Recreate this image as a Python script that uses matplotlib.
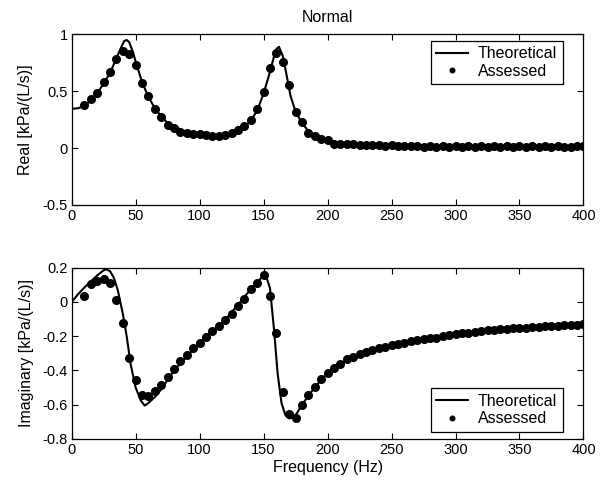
import matplotlib.pyplot as plt
from matplotlib.ticker import FuncFormatter

plt.rcParams['font.family'] = ['Liberation Sans', 'DejaVu Sans']

# assessed points, every 5 Hz from 10 to 400
freq = list(range(10, 405, 5))

real_pts = [0.38, 0.43, 0.48, 0.58, 0.67, 0.78, 0.85, 0.83, 0.73, 0.575,
            0.46, 0.34, 0.27, 0.205, 0.18, 0.145, 0.13, 0.12, 0.12, 0.115,
            0.11, 0.11, 0.115, 0.13, 0.16, 0.19, 0.245, 0.34, 0.49, 0.70,
            0.84, 0.755, 0.555, 0.32, 0.225, 0.13, 0.108, 0.08, 0.073, 0.04,
            0.04, 0.035, 0.035, 0.03, 0.03, 0.025, 0.025, 0.02, 0.025, 0.015,
            0.02, 0.015, 0.02, 0.01, 0.02, 0.01, 0.015, 0.01, 0.015, 0.01,
            0.015, 0.01, 0.015, 0.01, 0.015, 0.01, 0.015, 0.01, 0.015, 0.01,
            0.015, 0.01, 0.015, 0.01, 0.015, 0.01, 0.01, 0.015, 0.015]

imag_pts = [0.033, 0.103, 0.123, 0.132, 0.109, 0.012, -0.124, -0.325, -0.455, -0.543,
            -0.549, -0.52, -0.485, -0.436, -0.393, -0.344, -0.31, -0.27, -0.237, -0.204,
            -0.169, -0.14, -0.107, -0.068, -0.023, 0.019, 0.074, 0.109, 0.156, 0.035,
            -0.179, -0.525, -0.656, -0.679, -0.60, -0.546, -0.496, -0.448, -0.415, -0.383,
            -0.36, -0.335, -0.321, -0.305, -0.29, -0.282, -0.27, -0.263, -0.253, -0.243,
            -0.237, -0.228, -0.22, -0.218, -0.212, -0.208, -0.2, -0.195, -0.189, -0.183,
            -0.179, -0.175, -0.169, -0.165, -0.162, -0.158, -0.156, -0.154, -0.152, -0.15,
            -0.148, -0.144, -0.142, -0.14, -0.138, -0.134, -0.134, -0.134, -0.13]

# theoretical curves
th_freq_re = [0, 5, 10, 15, 20, 25, 30, 35, 38, 41, 43, 45, 48, 50, 55, 60, 65, 70,
              75, 80, 90, 100, 110, 120, 130, 135, 140, 145, 150, 155, 158, 160, 162,
              165, 168, 171, 175, 180, 185, 190, 200, 210, 220, 250, 300, 350, 400]
th_real = [0.345, 0.35, 0.37, 0.42, 0.48, 0.57, 0.66, 0.79, 0.87, 0.94, 0.95, 0.93, 0.84, 0.76,
           0.58, 0.45, 0.35, 0.28, 0.22, 0.19, 0.14, 0.12, 0.11, 0.115, 0.15, 0.185, 0.24,
           0.33, 0.48, 0.67, 0.80, 0.87, 0.89, 0.81, 0.64, 0.46, 0.32, 0.22, 0.15, 0.11,
           0.07, 0.045, 0.035, 0.025, 0.015, 0.012, 0.01]

th_freq_im = [0, 5, 10, 15, 20, 25, 27, 30, 33, 36, 40, 43, 46, 50, 54, 57, 60, 65, 70,
              75, 80, 100, 120, 140, 145, 148, 150, 152, 155, 158, 161, 164, 167, 170,
              173, 176, 180, 190, 200, 220, 250, 300, 350, 400]
th_imag = [0.0, 0.045, 0.085, 0.12, 0.155, 0.185, 0.19, 0.18, 0.14, 0.07, -0.07, -0.2,
           -0.36, -0.5, -0.575, -0.605, -0.59, -0.555, -0.51, -0.455, -0.40, -0.237, -0.105,
           0.074, 0.11, 0.14, 0.16, 0.15, 0.08, -0.15, -0.42, -0.59, -0.66, -0.68, -0.675,
           -0.65, -0.60, -0.497, -0.415, -0.32, -0.25, -0.189, -0.151, -0.13]


def fmt(v, pos):
    s = f'{v:.1f}'
    if s.endswith('.0'):
        s = s[:-2]
    if s == '-0':
        s = '0'
    return s


def style_axes(ax):
    ax.set_xlim(0, 400)
    ax.set_xticks(range(0, 401, 50))
    ax.tick_params(direction='in', top=True, right=True, labelsize=10.5,
                   length=4, width=0.8, pad=3)
    ax.yaxis.set_major_formatter(FuncFormatter(fmt))
    for sp in ax.spines.values():
        sp.set_linewidth(0.9)


def add_legend(ax, loc, anchor):
    leg = ax.legend(loc=loc, bbox_to_anchor=anchor, borderaxespad=0,
                    fontsize=11.5, fancybox=False, framealpha=1,
                    edgecolor='black', markerscale=0.6, handlelength=2.0,
                    labelspacing=0.15, borderpad=0.35, handletextpad=0.6)
    leg.get_frame().set_linewidth(0.9)


fig = plt.figure(figsize=(6.1, 4.83), dpi=100)
ax1 = fig.add_axes([0.1175, 0.5756, 0.839, 0.3534])
ax2 = fig.add_axes([0.1175, 0.0911, 0.839, 0.3547])

ax1.plot(th_freq_re, th_real, color='black', lw=1.5, label='Theoretical')
ax1.plot(freq, real_pts, 'o', color='black', ms=5.5, label='Assessed')
ax1.set_ylim(-0.5, 1)
ax1.set_yticks([-0.5, 0, 0.5, 1])
style_axes(ax1)
ax1.set_ylabel('Real [kPa/(L/s)]', fontsize=11.5, labelpad=7)
ax1.set_title('Normal', fontsize=11.5, pad=9)
add_legend(ax1, 'upper right', (0.9596, 0.9625))

ax2.plot(th_freq_im, th_imag, color='black', lw=1.5, label='Theoretical')
ax2.plot(freq, imag_pts, 'o', color='black', ms=5.5, label='Assessed')
ax2.set_ylim(-0.8, 0.2)
ax2.set_yticks([-0.8, -0.6, -0.4, -0.2, 0, 0.2])
style_axes(ax2)
ax2.set_ylabel('Imaginary [kPa/(L/s)]', fontsize=11.5, labelpad=6)
ax2.set_xlabel('Frequency (Hz)', fontsize=11.5, labelpad=2)
add_legend(ax2, 'lower right', (0.9596, 0.041))

fig.savefig('out.png', dpi=100)
